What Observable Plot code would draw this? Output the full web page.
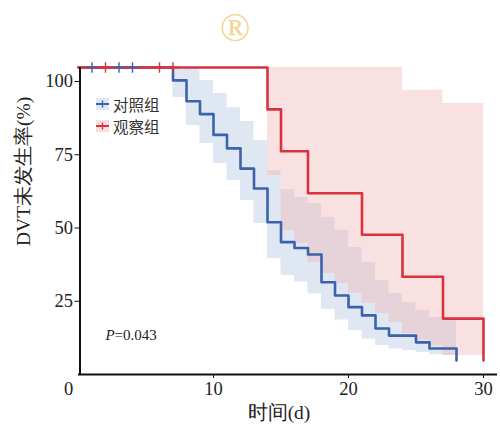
<!DOCTYPE html>
<html>
<head>
<meta charset="utf-8">
<script src="https://cdn.jsdelivr.net/npm/d3@7"></script>
<script src="https://cdn.jsdelivr.net/npm/@observablehq/plot@0.6"></script>
<style>
  html, body { margin: 0; padding: 0; background: #fff; }
  #wrap { position: relative; width: 500px; height: 425px; overflow: hidden; }
  #legend { position: absolute; left: 95px; top: 93px; font-family: "Noto Sans CJK SC", sans-serif; font-size: 15.5px; color: #333; line-height: 22px; }
  #legend .row { display: flex; align-items: center; height: 22px; }
  #legend svg { margin-right: 3px; }
  #mark { position: absolute; left: 220px; top: 4px; font-family: "Liberation Serif", serif; font-size: 40px; color: #f4d48e; }
</style>
</head>
<body>
<div id="wrap">
  <div id="chart"></div>
  <div id="mark">®</div>
  <div id="legend"></div>
</div>
<script>
// Groups
const groups = ["对照组", "观察组"];
const colors = ["#3b63ab", "#d9323f"];

// Kaplan-Meier curves (time in days, survival %)
const blueTimes = [0, 7, 8, 9, 10, 11, 12, 13, 14, 15, 16, 17, 18, 19, 20, 21, 22, 23, 25, 26, 28];
const blueSurv  = [100, 95.6, 88.5, 84.1, 77.0, 72.4, 65.5, 58.7, 47.2, 40.4, 38.4, 36.2, 26.7, 22.2, 18.2, 15.4, 10.9, 8.5, 6.2, 4.1, 0];
const redTimes  = [0, 14, 15, 17, 21, 24, 27, 30];
const redSurv   = [100, 85.7, 71.4, 57.1, 42.9, 28.6, 14.3, 0];

// Confidence bands
const blueBandTimes = [7, 8, 9, 10, 11, 12, 13, 14, 15, 16, 17, 18, 19, 20, 21, 22, 23, 24, 25, 26, 27, 28];
const blueUpper = [100, 100, 95.6, 91.1, 86.3, 81.6, 75.1, 64.8, 58.4, 55.6, 53.6, 48.8, 44.4, 38.6, 33.4, 27.3, 22.9, 19.8, 17.1, 14.7, 13.7, 13.7];
const blueLower = [89.8, 80.2, 74.1, 67.2, 61.4, 54.6, 46.8, 34.8, 29.0, 26.8, 22.7, 17.4, 13.8, 10.2, 7.3, 5.1, 3.9, 3.4, 2.7, 2.0, 1.7, 1.7];
const redBandTimes = [14, 15, 16, 17, 18, 19, 20, 21, 22, 23, 24, 25, 26, 27, 28, 29, 30];
const redUpper = [100, 100, 100, 100, 100, 100, 100, 100, 100, 100, 92.2, 92.2, 92.2, 87.7, 87.7, 87.7, 87.7];
const redLower = [63.1, 44.4, 39.9, 33.4, 29.7, 26.3, 22.9, 19.5, 16.0, 13.0, 9.2, 6.8, 5.1, 1.7, 1.7, 1.7, 1.7];

// Censored observations (days)
const blueCensor = [1, 3, 4];
const redCensor = [2, 6, 7];

// Axis ticks and labels
const xTicks = [10, 20, 30];
const yTicks = [25, 50, 75, 100];
const xLabel = "时间(d)";
const yLabel = "DVT未发生率(%)";
const pText = ["P", "=0.043"];

const blueLine = blueTimes.map((t, i) => ({t, s: blueSurv[i]}));
const redLine = redTimes.map((t, i) => ({t, s: redSurv[i]}));
const blueBand = blueBandTimes.map((t, i) => ({t, lo: blueLower[i], hi: blueUpper[i]}));
const redBand = redBandTimes.map((t, i) => ({t, lo: redLower[i], hi: redUpper[i]}));
const censors = [
  ...blueCensor.map(t => ({t, s: 100, g: 0})),
  ...redCensor.map(t => ({t, s: 100, g: 1}))
];

const serif = "Liberation Serif, Times New Roman, serif";
const chart = Plot.plot({
  width: 500,
  height: 425,
  marginLeft: 78,
  marginRight: 17,
  marginTop: 67,
  marginBottom: 65,
  style: {fontFamily: serif, background: "transparent", color: "#222"},
  x: {domain: [0, 30]},
  y: {domain: [0, 100]},
  marks: [
    Plot.areaY(blueBand, {x: "t", y1: "lo", y2: "hi", curve: "step-after", fill: "#dfe7f2"}),
    Plot.areaY(redBand, {x: "t", y1: "lo", y2: "hi", curve: "step-after", fill: "rgb(240,182,184)", fillOpacity: 0.41}),
    Plot.line(blueLine, {x: "t", y: "s", curve: "step-after", stroke: colors[0], strokeWidth: 2.6}),
    Plot.line(redLine, {x: "t", y: "s", curve: "step-after", stroke: colors[1], strokeWidth: 2.6}),
    Plot.dot(censors, {x: "t", y: "s", symbol: "plus", r: 3.5, stroke: d => colors[d.g], strokeWidth: 1.4}),
    Plot.ruleX([0], {dx: 1.5, insetBottom: -15, stroke: "#111", strokeWidth: 2}),
    Plot.ruleY([0], {dy: 14, insetRight: -14, stroke: "#111", strokeWidth: 2}),
    Plot.axisY({ticks: yTicks, tickSize: 5, tickPadding: 2, dy: 14, dx: 1.5, fontSize: 18.5, label: null, stroke: "#111"}),
    Plot.axisX({ticks: xTicks, tickSize: 4, tickPadding: 3, dy: 14, fontSize: 18.5, label: null, stroke: "#111"}),
    Plot.axisX({ticks: [0], tickSize: 0, tickPadding: 7, dy: 14, dx: -10, fontSize: 18.5, label: null}),
    Plot.text([xLabel], {frameAnchor: "bottom", dx: -2, dy: 58, fontSize: 19.5, fill: "#222"}),
    Plot.text([yLabel], {frameAnchor: "left", rotate: -90, dx: -55, dy: 32, fontSize: 19.5, fill: "#222"}),
    Plot.text([pText[0]], {x: [2], y: [8.5], textAnchor: "start", fontSize: 15, fontStyle: "italic", fill: "#222"}),
    Plot.text([pText[1]], {x: [2], y: [8.5], dx: 9, textAnchor: "start", fontSize: 15, fill: "#222"})
  ]
});
document.getElementById("chart").appendChild(chart);

// Legend
const bandFill = ["#dfe7f2", "#f8dfe0"];
const legend = document.getElementById("legend");
groups.forEach((g, i) => {
  const row = document.createElement("div");
  row.className = "row";
  row.innerHTML = `<svg width="15" height="14"><rect x="1" y="1" width="13" height="12" fill="${bandFill[i]}"/>` +
    `<line x1="1" x2="14" y1="7" y2="7" stroke="${colors[i]}" stroke-width="2"/>` +
    `<line x1="7.5" x2="7.5" y1="3.5" y2="10.5" stroke="${colors[i]}" stroke-width="1.4"/></svg><span>${g}</span>`;
  legend.appendChild(row);
});
</script>
</body>
</html>
